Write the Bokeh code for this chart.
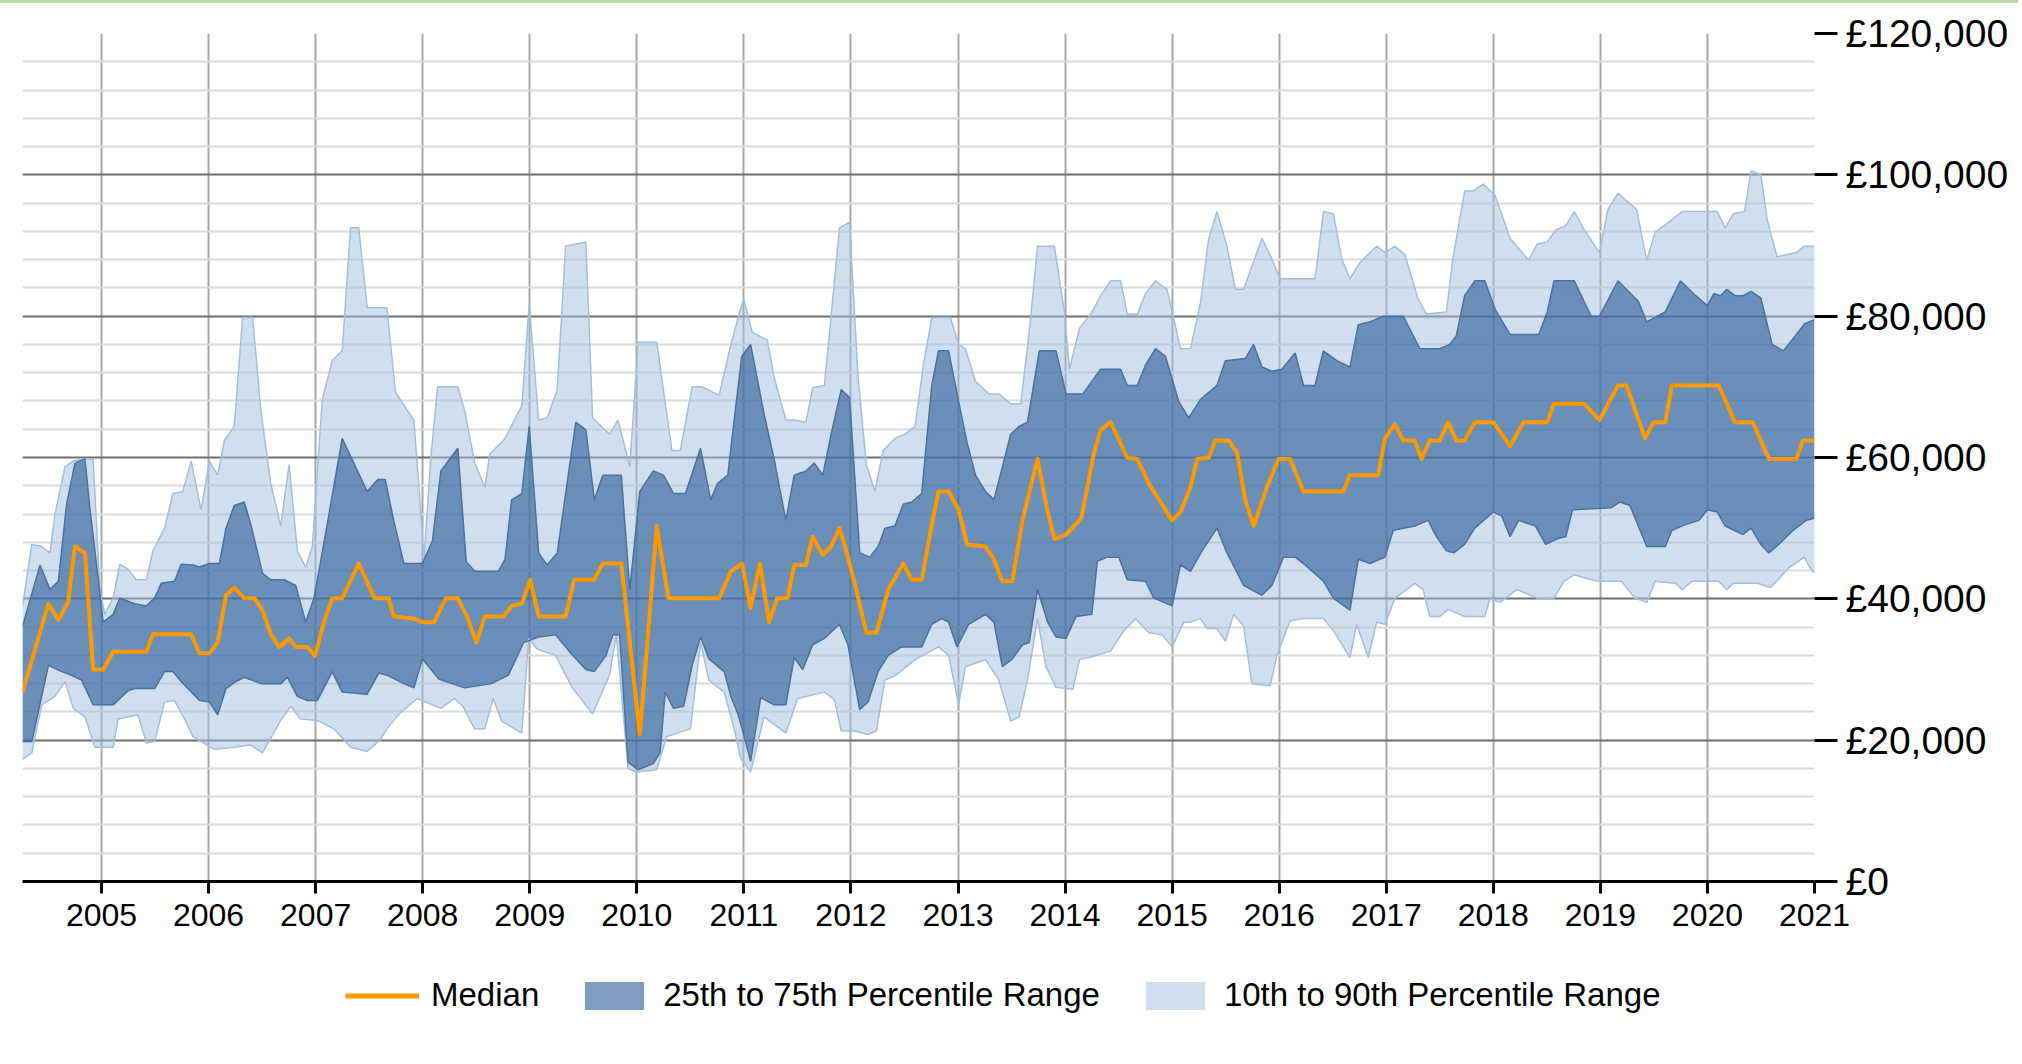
from bokeh.plotting import figure
from bokeh.models import FixedTicker, Legend, LegendItem, Range1d, Div
from bokeh.layouts import column
from bokeh.embed import file_html
from bokeh.resources import INLINE

# ---------------- data (time in decimal years, values in £ thousands) ----------------
MEDIAN_T = [2004.262, 2004.504, 2004.597, 2004.690, 2004.752, 2004.845, 2004.922, 2005.016, 2005.109, 2005.419,
            2005.481, 2005.837, 2005.915, 2006.008, 2006.085, 2006.163, 2006.240, 2006.333, 2006.426, 2006.504,
            2006.581, 2006.659, 2006.752, 2006.814, 2006.922, 2006.994, 2007.078, 2007.155, 2007.248, 2007.403,
            2007.550, 2007.682, 2007.729, 2007.918, 2007.997, 2008.107, 2008.217, 2008.328, 2008.422, 2008.501,
            2008.580, 2008.753, 2008.831, 2008.926, 2009.005, 2009.083, 2009.335, 2009.414, 2009.603, 2009.682,
            2009.855, 2010.028, 2010.186, 2010.296, 2010.769, 2010.879, 2010.984, 2011.063, 2011.150, 2011.235,
            2011.313, 2011.408, 2011.470, 2011.580, 2011.643, 2011.737, 2011.815, 2011.893, 2011.956, 2012.050,
            2012.144, 2012.238, 2012.348, 2012.489, 2012.567, 2012.661, 2012.755, 2012.818, 2012.912, 2013.006,
            2013.085, 2013.257, 2013.335, 2013.414, 2013.508, 2013.602, 2013.743, 2013.837, 2013.900, 2014.009,
            2014.150, 2014.276, 2014.332, 2014.425, 2014.581, 2014.674, 2014.783, 2015.000, 2015.078, 2015.171,
            2015.233, 2015.342, 2015.404, 2015.528, 2015.606, 2015.683, 2015.761, 2015.885, 2015.994, 2016.102,
            2016.227, 2016.599, 2016.661, 2016.925, 2016.988, 2017.081, 2017.158, 2017.267, 2017.329, 2017.407,
            2017.500, 2017.578, 2017.654, 2017.732, 2017.827, 2018.000, 2018.157, 2018.283, 2018.504, 2018.567,
            2018.850, 2018.992, 2019.165, 2019.244, 2019.417, 2019.496, 2019.606, 2019.669, 2020.106, 2020.257,
            2020.423, 2020.574, 2020.831, 2020.891, 2021.000]
MEDIAN_V = [26.8, 39.3, 37.0, 39.6, 47.4, 46.5, 30.0, 30.0, 32.5, 32.5,
            35.0, 35.0, 32.3, 32.3, 33.8, 40.5, 41.6, 40.1, 40.1, 38.4,
            35.0, 33.2, 34.4, 33.2, 33.2, 31.9, 36.7, 40.1, 40.1, 45.0,
            40.1, 40.1, 37.5, 37.2, 36.7, 36.7, 40.1, 40.1, 37.2, 33.8,
            37.5, 37.5, 39.0, 39.3, 42.7, 37.5, 37.5, 42.7, 42.7, 45.0,
            45.0, 20.8, 50.3, 40.1, 40.1, 43.9, 45.0, 38.7, 45.0, 36.7,
            40.1, 40.1, 44.8, 44.8, 48.8, 46.2, 47.4, 50.0, 46.8, 41.3,
            35.2, 35.2, 41.3, 45.0, 42.7, 42.7, 50.5, 55.2, 55.2, 52.6,
            47.7, 47.4, 45.6, 42.5, 42.5, 51.1, 59.8, 52.3, 48.5, 49.1,
            51.4, 61.0, 63.9, 65.0, 60.0, 59.8, 56.3, 51.1, 52.3, 55.8,
            59.8, 60.0, 62.4, 62.4, 60.7, 54.0, 50.3, 55.8, 59.8, 59.8,
            55.2, 55.2, 57.5, 57.5, 62.7, 64.7, 62.4, 62.4, 59.8, 62.4,
            62.4, 65.0, 62.4, 62.4, 65.0, 65.0, 61.6, 65.0, 65.0, 67.6,
            67.6, 65.3, 70.2, 70.2, 62.7, 65.0, 65.0, 70.2, 70.2, 65.0,
            65.0, 59.8, 59.8, 62.4, 62.4]

P75_T = [2004.262, 2004.426, 2004.519, 2004.597, 2004.674, 2004.752, 2004.845, 2004.891, 2005.016, 2005.109,
         2005.171, 2005.310, 2005.419, 2005.496, 2005.558, 2005.682, 2005.744, 2005.853, 2005.915, 2006.008,
         2006.101, 2006.163, 2006.240, 2006.333, 2006.395, 2006.504, 2006.581, 2006.705, 2006.814, 2006.907,
         2006.984, 2007.047, 2007.155, 2007.248, 2007.481, 2007.580, 2007.650, 2007.729, 2007.824, 2007.997,
         2008.091, 2008.170, 2008.328, 2008.406, 2008.485, 2008.706, 2008.769, 2008.831, 2008.926, 2008.995,
         2009.083, 2009.162, 2009.257, 2009.430, 2009.524, 2009.603, 2009.682, 2009.855, 2009.934, 2010.028,
         2010.154, 2010.249, 2010.343, 2010.454, 2010.595, 2010.690, 2010.753, 2010.850, 2010.920, 2010.980,
         2011.063, 2011.188, 2011.282, 2011.392, 2011.470, 2011.580, 2011.658, 2011.737, 2011.815, 2011.909,
         2011.987, 2012.082, 2012.176, 2012.254, 2012.317, 2012.411, 2012.489, 2012.567, 2012.661, 2012.755,
         2012.818, 2012.912, 2013.006, 2013.085, 2013.163, 2013.257, 2013.335, 2013.414, 2013.492, 2013.571,
         2013.649, 2013.759, 2013.915, 2014.009, 2014.166, 2014.332, 2014.519, 2014.581, 2014.674, 2014.752,
         2014.845, 2014.938, 2015.062, 2015.155, 2015.264, 2015.419, 2015.497, 2015.683, 2015.761, 2015.839,
         2015.932, 2016.025, 2016.149, 2016.227, 2016.335, 2016.413, 2016.537, 2016.661, 2016.739, 2016.848,
         2016.972, 2017.158, 2017.314, 2017.500, 2017.593, 2017.654, 2017.732, 2017.827, 2017.921, 2018.016,
         2018.157, 2018.425, 2018.504, 2018.567, 2018.756, 2018.913, 2018.992, 2019.165, 2019.354, 2019.433,
         2019.606, 2019.748, 2019.890, 2020.000, 2020.060, 2020.121, 2020.181, 2020.257, 2020.332, 2020.408,
         2020.498, 2020.604, 2020.710, 2020.831, 2020.906, 2021.000]
P75_V = [36.1, 44.8, 41.3, 42.5, 53.4, 59.2, 59.8, 52.9, 36.7, 37.8,
         40.1, 39.3, 39.0, 40.1, 42.2, 42.5, 44.9, 44.8, 44.5, 45.0,
         45.0, 50.0, 53.2, 53.7, 50.5, 43.6, 42.7, 42.7, 41.9, 36.7,
         40.1, 45.3, 54.6, 62.7, 55.2, 56.9, 56.9, 51.1, 45.0, 45.0,
         48.2, 58.1, 61.3, 45.3, 43.9, 43.9, 45.6, 54.0, 54.9, 64.4,
         46.5, 44.8, 46.5, 65.0, 63.9, 54.0, 57.5, 57.5, 41.3, 55.2,
         58.1, 57.5, 54.9, 54.9, 61.3, 54.0, 56.3, 57.5, 66.7, 74.3,
         76.0, 66.2, 59.8, 51.1, 57.5, 58.1, 59.2, 57.5, 63.3, 69.6,
         68.5, 46.5, 45.9, 47.4, 50.0, 50.3, 53.4, 53.7, 54.9, 70.2,
         75.1, 75.1, 67.9, 62.1, 57.5, 55.2, 54.0, 58.6, 63.3, 64.4,
         65.0, 75.1, 75.1, 69.0, 69.0, 72.5, 72.5, 70.2, 70.2, 73.1,
         75.4, 74.3, 67.9, 65.6, 68.2, 70.2, 73.7, 74.0, 76.0, 72.8,
         72.2, 72.5, 74.8, 70.2, 70.2, 75.1, 73.7, 72.8, 78.8, 79.2,
         80.0, 80.0, 75.4, 75.4, 76.0, 77.2, 82.9, 85.0, 85.0, 81.0,
         77.4, 77.4, 80.6, 85.0, 85.0, 80.0, 80.0, 85.0, 82.1, 79.2,
         80.6, 85.0, 82.9, 81.5, 83.2, 82.9, 83.8, 82.9, 82.9, 83.5,
         82.6, 76.0, 75.1, 77.4, 78.9, 79.5]

P90_T = [2004.262, 2004.349, 2004.442, 2004.519, 2004.566, 2004.659, 2004.736, 2004.845, 2004.922, 2004.984,
         2005.031, 2005.109, 2005.171, 2005.248, 2005.326, 2005.419, 2005.481, 2005.589, 2005.667, 2005.760,
         2005.837, 2005.930, 2006.008, 2006.085, 2006.147, 2006.240, 2006.318, 2006.411, 2006.488, 2006.581,
         2006.674, 2006.752, 2006.829, 2006.907, 2006.969, 2007.062, 2007.155, 2007.248, 2007.326, 2007.403,
         2007.481, 2007.666, 2007.745, 2007.855, 2007.918, 2008.013, 2008.076, 2008.139, 2008.328, 2008.391,
         2008.485, 2008.580, 2008.627, 2008.769, 2008.926, 2008.995, 2009.083, 2009.162, 2009.257, 2009.335,
         2009.524, 2009.587, 2009.745, 2009.824, 2009.934, 2010.013, 2010.186, 2010.328, 2010.406, 2010.517,
         2010.611, 2010.769, 2010.879, 2010.960, 2011.000, 2011.078, 2011.219, 2011.282, 2011.392, 2011.470,
         2011.580, 2011.643, 2011.752, 2011.815, 2011.893, 2011.987, 2012.066, 2012.144, 2012.223, 2012.301,
         2012.411, 2012.505, 2012.599, 2012.677, 2012.755, 2012.928, 2013.006, 2013.069, 2013.163, 2013.288,
         2013.382, 2013.492, 2013.586, 2013.665, 2013.743, 2013.900, 2013.994, 2014.041, 2014.135, 2014.250,
         2014.332, 2014.425, 2014.519, 2014.581, 2014.674, 2014.752, 2014.845, 2014.953, 2015.078, 2015.171,
         2015.264, 2015.342, 2015.419, 2015.512, 2015.590, 2015.668, 2015.839, 2015.932, 2016.009, 2016.335,
         2016.413, 2016.506, 2016.584, 2016.661, 2016.755, 2016.910, 2016.988, 2017.081, 2017.174, 2017.298,
         2017.376, 2017.562, 2017.622, 2017.732, 2017.811, 2017.906, 2018.016, 2018.157, 2018.331, 2018.409,
         2018.504, 2018.583, 2018.677, 2018.756, 2018.850, 2018.992, 2019.071, 2019.165, 2019.339, 2019.433,
         2019.512, 2019.622, 2019.764, 2020.091, 2020.166, 2020.242, 2020.347, 2020.408, 2020.498, 2020.559,
         2020.650, 2020.831, 2020.906, 2021.000]
P90_V = [38.9, 47.7, 47.4, 46.5, 52.0, 58.7, 59.5, 59.8, 59.8, 41.3,
         37.8, 40.1, 44.9, 44.2, 42.7, 42.7, 46.8, 50.0, 54.9, 55.2,
         59.5, 52.6, 59.5, 57.5, 62.4, 64.4, 79.8, 79.8, 66.7, 56.3,
         50.3, 59.0, 46.8, 44.5, 47.4, 68.2, 73.7, 75.1, 92.5, 92.5,
         81.2, 81.2, 69.3, 66.7, 65.3, 45.9, 60.0, 70.0, 70.0, 66.7,
         59.3, 55.8, 60.5, 62.7, 67.3, 81.8, 65.3, 65.6, 69.6, 89.9,
         90.5, 65.6, 63.3, 65.3, 58.7, 76.3, 76.3, 61.0, 61.0, 70.0,
         70.0, 68.8, 76.0, 80.6, 82.4, 77.7, 76.6, 71.4, 65.3, 65.3,
         65.0, 69.9, 70.2, 80.0, 92.5, 93.3, 71.4, 59.0, 55.2, 61.0,
         62.7, 63.3, 64.4, 73.1, 79.8, 79.8, 76.0, 75.4, 70.8, 69.0,
         69.0, 67.6, 67.6, 77.7, 89.9, 89.9, 80.6, 72.5, 78.3, 80.5,
         82.9, 85.0, 85.0, 80.3, 80.3, 83.2, 85.0, 83.8, 75.4, 75.4,
         81.8, 91.0, 94.8, 89.9, 83.8, 83.8, 91.0, 88.1, 85.3, 85.3,
         94.8, 94.5, 88.1, 85.3, 87.6, 89.9, 89.0, 89.9, 88.7, 82.4,
         80.3, 80.6, 88.1, 97.7, 97.7, 98.7, 97.1, 91.0, 87.9, 90.2,
         90.5, 92.2, 92.8, 94.8, 92.2, 89.0, 95.1, 97.4, 95.1, 87.9,
         91.9, 93.1, 94.8, 94.8, 92.5, 94.5, 94.8, 100.6, 100.0, 93.6,
         88.4, 89.0, 89.9, 89.9]

P25_T = [2004.262, 2004.349, 2004.504, 2004.628, 2004.690, 2004.814, 2004.922, 2005.109, 2005.248, 2005.310,
         2005.496, 2005.589, 2005.667, 2005.744, 2005.915, 2006.008, 2006.085, 2006.163, 2006.256, 2006.333,
         2006.488, 2006.674, 2006.736, 2006.829, 2006.922, 2007.016, 2007.155, 2007.248, 2007.481, 2007.590,
         2007.666, 2007.824, 2007.918, 2007.997, 2008.154, 2008.391, 2008.643, 2008.800, 2008.942, 2009.083,
         2009.241, 2009.367, 2009.524, 2009.603, 2009.713, 2009.776, 2009.839, 2009.918, 2010.013, 2010.154,
         2010.217, 2010.265, 2010.343, 2010.438, 2010.517, 2010.595, 2010.674, 2010.816, 2010.879, 2010.940,
         2010.984, 2011.063, 2011.157, 2011.282, 2011.392, 2011.470, 2011.549, 2011.643, 2011.752, 2011.893,
         2011.972, 2012.082, 2012.160, 2012.254, 2012.348, 2012.473, 2012.661, 2012.755, 2012.850, 2012.912,
         2012.991, 2013.100, 2013.257, 2013.335, 2013.414, 2013.508, 2013.602, 2013.665, 2013.743, 2013.837,
         2013.915, 2014.009, 2014.103, 2014.250, 2014.301, 2014.394, 2014.503, 2014.581, 2014.752, 2014.829,
         2015.000, 2015.078, 2015.171, 2015.280, 2015.419, 2015.512, 2015.668, 2015.839, 2015.932, 2016.040,
         2016.149, 2016.242, 2016.413, 2016.506, 2016.661, 2016.739, 2016.848, 2016.988, 2017.065, 2017.267,
         2017.391, 2017.469, 2017.562, 2017.630, 2017.732, 2017.827, 2018.000, 2018.079, 2018.157, 2018.236,
         2018.394, 2018.488, 2018.598, 2018.677, 2018.740, 2019.102, 2019.181, 2019.276, 2019.433, 2019.606,
         2019.669, 2019.795, 2019.921, 2020.000, 2020.091, 2020.166, 2020.332, 2020.408, 2020.498, 2020.574,
         2020.680, 2020.801, 2020.921, 2021.000]
P25_V = [19.8, 19.8, 30.6, 29.7, 29.4, 28.5, 25.0, 25.0, 27.0, 27.3,
         27.3, 29.7, 29.7, 28.3, 25.6, 25.4, 23.6, 27.3, 28.3, 28.9,
         28.0, 28.0, 28.9, 26.2, 25.6, 25.6, 29.7, 26.8, 26.5, 29.5,
         29.2, 28.0, 27.4, 31.5, 28.6, 27.4, 28.0, 29.2, 33.8, 34.6,
         34.9, 32.6, 30.0, 29.7, 32.0, 34.9, 34.9, 16.9, 15.8, 16.7,
         18.2, 26.8, 24.5, 24.8, 30.6, 34.6, 31.5, 29.7, 26.2, 23.9,
         21.6, 17.0, 26.0, 25.0, 25.0, 31.7, 30.0, 33.5, 34.4, 36.4,
         33.5, 24.3, 25.4, 29.7, 32.0, 33.2, 33.2, 36.4, 37.2, 36.7,
         33.2, 36.4, 37.8, 36.7, 30.4, 31.5, 33.5, 33.8, 41.3, 36.7,
         34.6, 34.4, 37.5, 37.8, 45.3, 45.9, 45.9, 42.7, 42.5, 40.1,
         39.0, 44.8, 43.9, 46.8, 50.0, 46.5, 41.9, 40.5, 41.9, 45.9,
         45.9, 44.8, 42.5, 40.1, 38.4, 45.6, 45.0, 45.9, 49.7, 50.3,
         51.1, 48.8, 46.8, 46.5, 47.7, 50.0, 52.3, 51.7, 48.8, 51.1,
         50.3, 47.7, 48.5, 48.8, 52.6, 52.9, 53.7, 53.2, 47.4, 47.4,
         49.7, 50.5, 51.1, 52.6, 52.3, 50.3, 49.1, 50.0, 47.7, 46.5,
         47.9, 49.7, 51.1, 51.4]

P10_T = [2004.262, 2004.349, 2004.442, 2004.566, 2004.659, 2004.736, 2004.845, 2004.938, 2005.109, 2005.155,
         2005.341, 2005.419, 2005.496, 2005.589, 2005.682, 2005.775, 2005.853, 2006.054, 2006.240, 2006.395,
         2006.504, 2006.674, 2006.767, 2006.860, 2007.016, 2007.171, 2007.326, 2007.481, 2007.600, 2007.666,
         2007.792, 2007.950, 2008.170, 2008.296, 2008.375, 2008.485, 2008.580, 2008.658, 2008.737, 2008.926,
         2008.989, 2009.068, 2009.241, 2009.398, 2009.587, 2009.745, 2009.808, 2009.918, 2009.997, 2010.186,
         2010.280, 2010.375, 2010.501, 2010.595, 2010.674, 2010.816, 2010.910, 2010.969, 2011.063, 2011.188,
         2011.392, 2011.502, 2011.752, 2011.846, 2011.909, 2012.034, 2012.160, 2012.238, 2012.317, 2012.411,
         2012.599, 2012.818, 2012.912, 2013.006, 2013.069, 2013.257, 2013.382, 2013.492, 2013.571, 2013.649,
         2013.743, 2013.821, 2013.915, 2014.072, 2014.135, 2014.250, 2014.425, 2014.550, 2014.658, 2014.783,
         2014.907, 2015.000, 2015.109, 2015.171, 2015.264, 2015.326, 2015.419, 2015.497, 2015.575, 2015.668,
         2015.745, 2015.916, 2015.978, 2016.102, 2016.227, 2016.413, 2016.506, 2016.661, 2016.724, 2016.832,
         2016.910, 2016.988, 2017.081, 2017.267, 2017.345, 2017.407, 2017.500, 2017.580, 2017.732, 2017.921,
         2017.969, 2018.063, 2018.220, 2018.409, 2018.567, 2018.661, 2018.756, 2018.913, 2018.992, 2019.197,
         2019.323, 2019.433, 2019.512, 2019.701, 2019.764, 2019.858, 2020.106, 2020.181, 2020.242, 2020.468,
         2020.589, 2020.770, 2020.906, 2020.952, 2021.000]
P10_V = [17.3, 18.2, 25.0, 26.2, 28.3, 24.5, 23.3, 19.0, 19.0, 23.0,
         23.6, 19.6, 19.8, 25.4, 25.6, 23.0, 20.5, 18.7, 19.0, 19.3,
         18.2, 22.8, 24.8, 23.0, 22.8, 21.6, 19.0, 18.4, 20.0, 21.6,
         23.9, 25.9, 24.5, 25.9, 24.8, 21.6, 21.6, 25.9, 22.7, 21.0,
         34.4, 32.9, 32.0, 27.4, 23.7, 29.2, 34.9, 16.0, 15.5, 15.8,
         20.5, 21.0, 21.6, 33.8, 28.5, 26.8, 21.6, 17.5, 15.5, 23.3,
         21.0, 25.9, 26.8, 25.7, 21.3, 21.3, 20.8, 21.3, 28.5, 29.1,
         31.4, 33.2, 32.0, 25.0, 30.4, 31.4, 28.5, 22.7, 23.3, 28.5,
         37.2, 30.4, 27.5, 27.2, 31.4, 31.8, 32.6, 35.5, 37.2, 35.2,
         34.9, 33.2, 36.7, 36.7, 37.2, 35.8, 35.8, 34.0, 37.8, 36.1,
         28.0, 27.7, 32.0, 36.9, 37.2, 37.2, 35.5, 31.7, 36.4, 31.7,
         36.7, 36.4, 40.1, 42.2, 41.3, 37.5, 37.5, 38.5, 37.5, 37.5,
         40.1, 39.5, 41.3, 40.1, 40.1, 42.5, 43.4, 42.7, 42.5, 42.5,
         40.1, 39.5, 42.5, 42.2, 41.3, 42.5, 42.5, 41.3, 42.2, 42.2,
         41.6, 44.5, 45.9, 44.5, 43.6]

YEAR_TICKS = [2005, 2006, 2007, 2008, 2009, 2010, 2011, 2012, 2013,
              2014, 2015, 2016, 2017, 2018, 2019, 2020, 2021]
YEAR_LABELS = [str(y) for y in YEAR_TICKS]
Y_TICKS = [0, 20000, 40000, 60000, 80000, 100000, 120000]
Y_LABELS = ["£0", "£20,000", "£40,000", "£60,000", "£80,000", "£100,000", "£120,000"]
LEGEND_LABELS = ["Median", "25th to 75th Percentile Range", "10th to 90th Percentile Range"]

FONT = "Liberation Sans"
ORANGE = "#ff9900"
DARK = "#265a94"
LIGHT = "#a1bfdd"
NAN = float("nan")


def k(vals):
    return [v * 1000 for v in vals]


def band(t_up, v_up, t_lo, v_lo):
    xs = list(t_up) + list(t_lo)[::-1]
    ys = k(v_up) + k(v_lo)[::-1]
    return xs, ys


W = 2018
TOPBAR = 3
FL, FT, FW, FH, FB = 22, 30, 1792, 848, 70
H_MAIN = FT + FH + FB
H_LEG = 1060 - TOPBAR - H_MAIN

# thin green rule along the top of the page
bar = Div(text="", width=W, height=TOPBAR, margin=0,
          styles={"background-color": "#b9d8a8"})

p = figure(width=W, height=H_MAIN,
           x_range=Range1d(2004.262, 2021.0), y_range=Range1d(0, 120000),
           output_backend="svg", toolbar_location=None,
           y_axis_location="right",
           min_border_left=FL, min_border_top=FT,
           min_border_right=W - FL - FW, min_border_bottom=FB)
p.outline_line_color = None
p.background_fill_color = "white"
p.border_fill_color = "white"

# grids
p.xgrid.ticker = FixedTicker(ticks=YEAR_TICKS)
p.xgrid.grid_line_color = "#a6a6a6"
p.xgrid.grid_line_width = 2
minor = [v for v in range(0, 120001, 4000) if v % 20000 != 0]
p.ygrid.ticker = FixedTicker(ticks=Y_TICKS, minor_ticks=minor)
p.ygrid.grid_line_color = "#6e6e6e"
p.ygrid.grid_line_width = 2
p.ygrid.minor_grid_line_color = "#dcdcdc"
p.ygrid.minor_grid_line_width = 2

# bands
lx, ly = band(P90_T, P90_V, P10_T, P10_V)
p.patch(lx, ly, fill_color=LIGHT, fill_alpha=0.5, line_color=None)
dx, dy = band(P75_T, P75_V, P25_T, P25_V)
p.patch(dx, dy, fill_color=DARK, fill_alpha=0.6, line_color=None)

p.line(P90_T, k(P90_V), line_color="#a3bedc", line_width=1.5)
p.line(P10_T, k(P10_V), line_color="#a3bedc", line_width=1.5)
p.line(P75_T, k(P75_V), line_color="#4a72a0", line_width=1.5)
p.line(P25_T, k(P25_V), line_color="#4a72a0", line_width=1.5)

p.line(MEDIAN_T, k(MEDIAN_V), line_color=ORANGE, line_width=4, line_join="round")

# axes
xa = p.xaxis[0]
xa.ticker = FixedTicker(ticks=YEAR_TICKS)
xa.major_label_overrides = dict(zip(YEAR_TICKS, YEAR_LABELS))
xa.axis_line_color = "black"
xa.axis_line_width = 3
xa.major_tick_line_color = "black"
xa.major_tick_line_width = 3
xa.major_tick_out = 12
xa.major_tick_in = 0
xa.minor_tick_line_color = None
xa.major_label_text_font = FONT
xa.major_label_text_font_size = "32px"
xa.major_label_text_color = "black"
xa.major_label_standoff = 10

ya = p.yaxis[0]
ya.ticker = FixedTicker(ticks=Y_TICKS)
ya.major_label_overrides = dict(zip(Y_TICKS, Y_LABELS))
ya.axis_line_color = None
ya.major_tick_line_color = "black"
ya.major_tick_line_width = 3
ya.major_tick_out = 23
ya.major_tick_in = 0
ya.minor_tick_line_color = None
ya.major_label_text_font = FONT
ya.major_label_text_font_size = "39px"
ya.major_label_text_color = "black"
ya.major_label_standoff = 8

# ---------------- legend strip below the chart ----------------
leg = figure(width=W, height=H_LEG, x_range=Range1d(0, 1), y_range=Range1d(0, 1),
             output_backend="svg", toolbar_location=None,
             x_axis_location=None, y_axis_location=None, min_border=0)
leg.outline_line_color = None
leg.xgrid.visible = False
leg.ygrid.visible = False
# legend keys only (NaN data: nothing is drawn in the strip itself)
key_med = leg.line(x=[NAN, NAN], y=[NAN, NAN], line_color=ORANGE, line_width=5)
key_dark = leg.patch(x=[NAN, NAN, NAN], y=[NAN, NAN, NAN], fill_color=DARK, fill_alpha=0.6, line_color=None)
key_light = leg.patch(x=[NAN, NAN, NAN], y=[NAN, NAN, NAN], fill_color=LIGHT, fill_alpha=0.5, line_color=None)

legend = Legend(items=[LegendItem(label=LEGEND_LABELS[0], renderers=[key_med]),
                       LegendItem(label=LEGEND_LABELS[1], renderers=[key_dark]),
                       LegendItem(label=LEGEND_LABELS[2], renderers=[key_light])],
                orientation="horizontal", location=(323, 46),
                glyph_width=74, glyph_height=35, label_standoff=12, spacing=38,
                label_text_font=FONT, label_text_font_size="33px", label_text_color="black",
                border_line_color=None, background_fill_alpha=0,
                padding=8, margin=0)
leg.add_layout(legend, "center")

layout = column(bar, p, leg, spacing=0)
open("out.html", "w").write(file_html(layout, INLINE))
